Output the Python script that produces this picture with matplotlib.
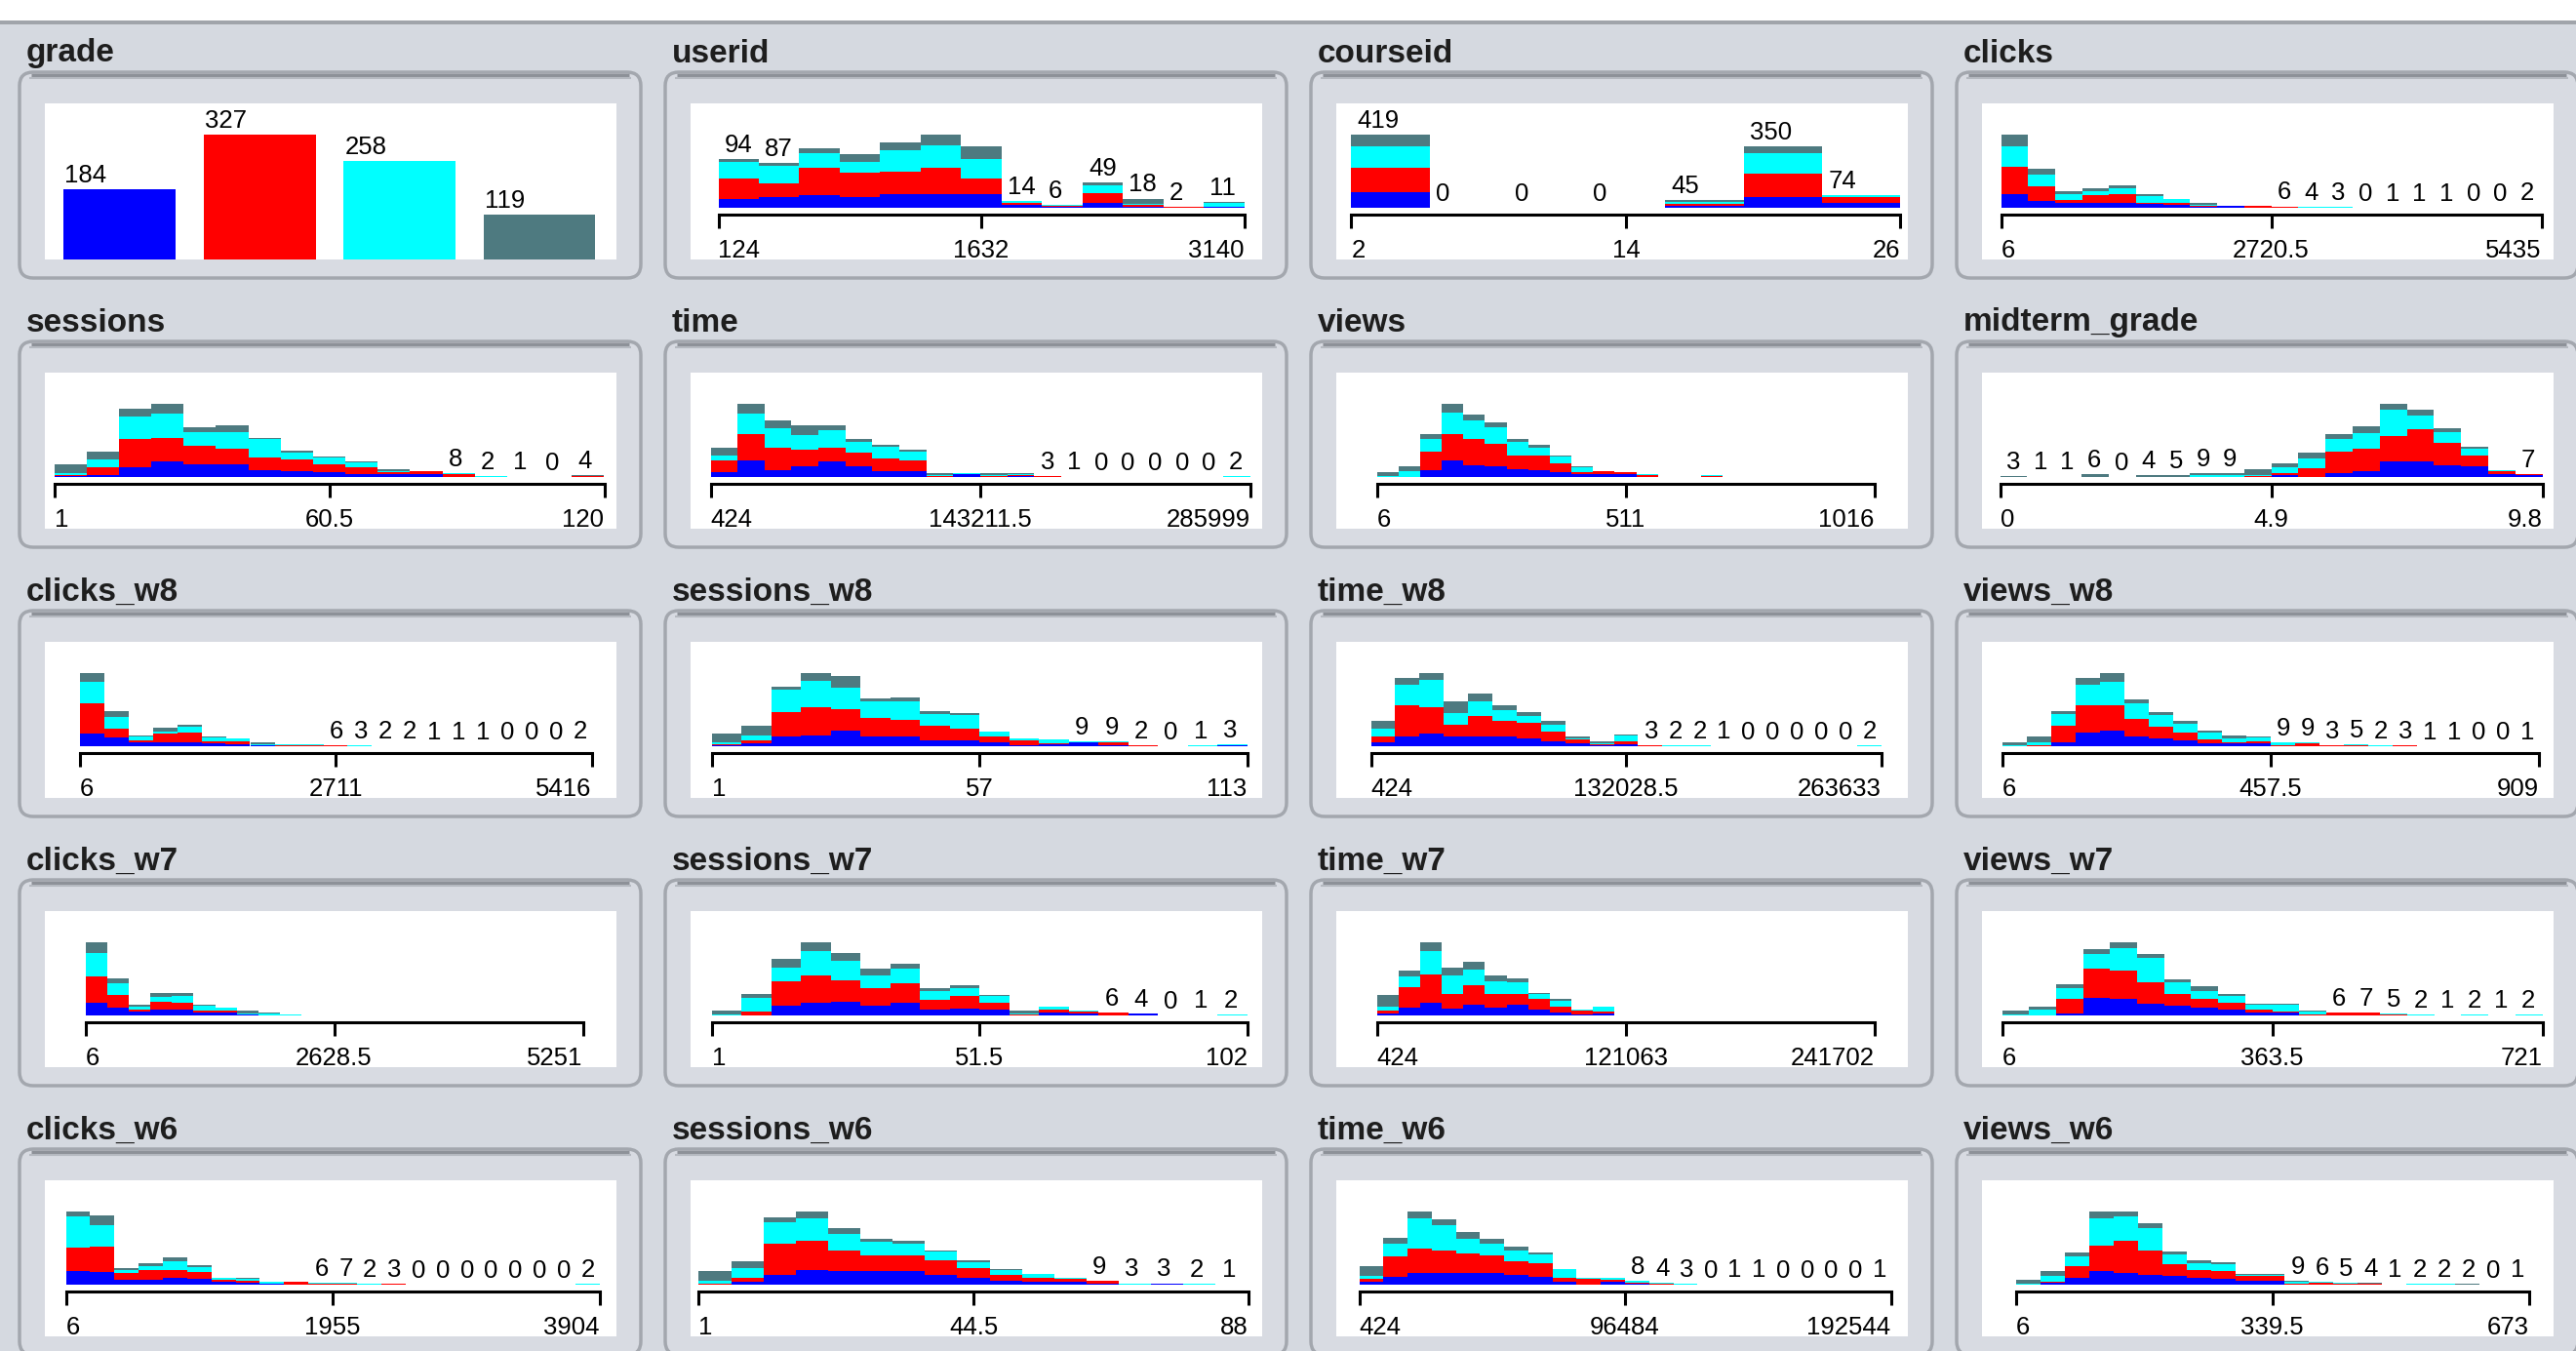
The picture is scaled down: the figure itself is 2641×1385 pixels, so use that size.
import matplotlib
matplotlib.use("Agg")
import matplotlib.pyplot as plt
from matplotlib.patches import FancyBboxPatch, Rectangle

plt.rcParams["font.family"] = ["Liberation Sans", "DejaVu Sans"]

# class colours, stacked bottom to top
COLORS = ["#0000ff", "#ff0000", "#00ffff", "#4e7a80"]

grade_counts = [184, 327, 258, 119]

# per-bin class counts [blue, red, cyan, slate]
userid = [[17, 39, 33, 5], [21, 27, 33, 6], [24, 54, 29, 8], [21, 48, 21, 14], [26, 44, 41, 16],
          [26, 52, 43, 21], [26, 30, 38, 25], [5, 5, 4, 0], [2, 2, 1, 1], [10, 18, 16, 5],
          [2, 3, 3, 10], [0, 1, 0, 1], [1, 1, 8, 1]]
courseid = [[90, 137, 126, 66], [0, 0, 0, 0], [0, 0, 0, 0], [0, 0, 0, 0], [10, 12, 13, 10],
            [62, 132, 118, 38], [30, 32, 12, 0]]
clicks = [[59, 117, 91, 48], [29, 63, 51, 25], [23, 10, 25, 12], [23, 32, 18, 12], [23, 35, 26, 12],
          [15, 4, 32, 7], [12, 9, 17, 0], [4, 4, 3, 8], [7, 2, 1, 0], [2, 7, 1, 0],
          [2, 2, 1, 1], [1, 1, 1, 1], [1, 1, 1, 0], [0, 0, 0, 0], [0, 0, 1, 0],
          [1, 0, 0, 0], [0, 1, 0, 0], [0, 0, 0, 0], [0, 0, 0, 0], [0, 1, 1, 0]]
sessions = [[2, 3, 3, 21], [5, 17, 17, 17], [22, 62, 49, 17], [34, 51, 55, 21], [29, 40, 30, 10],
            [29, 33, 37, 16], [15, 28, 40, 4], [12, 26, 15, 4], [10, 17, 17, 2], [7, 15, 10, 2],
            [6, 5, 2, 4], [6, 6, 0, 0], [1, 6, 1, 0], [0, 1, 1, 0], [0, 0, 0, 1],
            [0, 0, 0, 0], [1, 1, 1, 1]]
time = [[12, 26, 12, 19], [38, 62, 48, 23], [17, 52, 46, 18], [25, 39, 35, 23], [36, 32, 41, 12],
        [25, 31, 27, 6], [13, 31, 27, 4], [13, 25, 22, 4], [1, 2, 2, 5], [6, 1, 3, 0],
        [1, 2, 2, 5], [2, 2, 2, 4], [1, 1, 1, 0], [0, 1, 0, 0], [0, 0, 0, 0],
        [0, 0, 0, 0], [0, 0, 0, 0], [0, 0, 0, 0], [0, 0, 0, 0], [0, 1, 1, 0]]
views = [[0, 0, 2, 10], [0, 0, 13, 12], [16, 45, 32, 12], [39, 66, 51, 21], [29, 63, 44, 16],
         [25, 55, 40, 12], [20, 33, 32, 8], [17, 34, 21, 6], [12, 21, 16, 4], [6, 6, 11, 2],
         [7, 6, 2, 0], [6, 6, 0, 0], [1, 3, 2, 0], [0, 0, 0, 0], [0, 0, 0, 0],
         [0, 3, 1, 0]] + [[0, 0, 0, 0]] * 7
midterm_grade = [[0, 0, 0, 3], [0, 0, 0, 1], [0, 0, 0, 1], [0, 0, 1, 5], [0, 0, 0, 0],
                 [0, 0, 1, 3], [0, 0, 1, 4], [0, 1, 3, 5], [0, 1, 3, 5], [1, 1, 3, 14],
                 [4, 4, 15, 8], [0, 20, 22, 15], [9, 49, 30, 11], [13, 52, 37, 15], [37, 58, 60, 13],
                 [37, 73, 31, 13], [28, 51, 24, 10], [24, 26, 15, 4], [6, 7, 2, 1], [5, 2, 0, 0]]
clicks_w8 = [[59, 140, 101, 42], [41, 42, 55, 28], [20, 8, 16, 8], [20, 39, 8, 19], [20, 42, 28, 11],
             [12, 12, 16, 6], [11, 11, 14, 0], [3, 3, 3, 11], [2, 3, 3, 2], [2, 3, 3, 2],
             [1, 2, 2, 1], [1, 1, 1, 0], [0, 1, 1, 0], [1, 0, 0, 1], [0, 0, 1, 0],
             [0, 1, 0, 0], [1, 0, 0, 0], [0, 0, 0, 0], [0, 0, 0, 0], [0, 0, 0, 0], [0, 1, 1, 0]]
sessions_w8 = [[1, 2, 5, 17], [6, 6, 10, 20], [19, 50, 45, 5], [22, 57, 53, 15], [32, 43, 43, 23],
               [20, 37, 33, 7], [20, 33, 38, 7], [11, 31, 23, 5], [11, 25, 27, 3], [8, 12, 9, 1],
               [1, 11, 3, 0], [3, 3, 7, 0], [7, 1, 1, 0], [1, 7, 1, 0], [0, 1, 1, 0],
               [0, 0, 0, 0], [0, 0, 1, 0], [1, 1, 1, 0]]
time_w8 = [[8, 14, 17, 18], [22, 70, 47, 16], [28, 60, 62, 16], [22, 27, 27, 25], [23, 45, 35, 17],
           [23, 34, 26, 11], [18, 35, 16, 8], [10, 23, 16, 8], [6, 9, 3, 4], [2, 2, 2, 4],
           [5, 5, 14, 2], [1, 1, 1, 0], [0, 1, 1, 0], [1, 0, 1, 0], [0, 1, 0, 0],
           [0, 0, 0, 0], [0, 0, 0, 0], [0, 0, 0, 0], [0, 0, 0, 0], [0, 0, 0, 0], [0, 1, 1, 0]]
views_w8 = [[0, 0, 2, 8], [0, 2, 7, 16], [11, 41, 30, 9], [35, 70, 53, 16], [39, 67, 60, 21],
            [25, 44, 41, 11], [21, 30, 29, 8], [15, 21, 22, 8], [8, 10, 16, 5], [7, 4, 8, 8],
            [7, 5, 11, 2], [1, 1, 7, 0], [1, 7, 1, 0], [1, 1, 1, 0], [1, 2, 1, 1],
            [0, 1, 1, 0], [1, 1, 1, 0], [0, 0, 1, 0], [1, 0, 0, 0], [0, 0, 0, 0],
            [0, 0, 0, 0], [0, 0, 0, 1]]
clicks_w7 = [[57, 122, 106, 48], [37, 57, 52, 25], [18, 7, 15, 9], [27, 37, 22, 15], [27, 30, 30, 15],
             [12, 12, 21, 4], [12, 12, 10, 3], [3, 3, 4, 12], [1, 1, 8, 2], [1, 1, 1, 0],
             [0, 1, 1, 0], [0, 0, 1, 0], [1, 0, 0, 0], [0, 0, 0, 0], [0, 1, 0, 0],
             [0, 0, 0, 0], [0, 0, 0, 0], [0, 0, 1, 0], [0, 0, 0, 0], [0, 0, 0, 0],
             [0, 0, 0, 0], [0, 0, 0, 0], [0, 0, 0, 1]]
sessions_w7 = [[0, 0, 2, 8], [0, 9, 29, 8], [20, 52, 31, 18], [27, 59, 52, 18], [30, 45, 42, 16],
               [20, 38, 28, 13], [27, 42, 30, 12], [13, 21, 19, 5], [14, 27, 17, 6], [13, 14, 14, 3],
               [1, 1, 2, 6], [6, 6, 6, 0], [4, 4, 3, 0], [1, 5, 0, 0], [4, 0, 0, 0],
               [0, 0, 0, 0], [0, 0, 1, 0], [0, 1, 1, 0]]
time_w7 = [[5, 7, 8, 28], [19, 49, 25, 15], [31, 66, 57, 21], [17, 34, 45, 19], [25, 47, 37, 19],
           [19, 33, 29, 15], [25, 26, 29, 8], [15, 25, 12, 2], [8, 12, 16, 3], [2, 10, 3, 0],
           [5, 5, 11, 0]] + [[0, 0, 0, 0]] * 11 + [[0, 0, 0, 1]]
views_w7 = [[0, 0, 2, 10], [0, 0, 13, 8], [4, 35, 27, 8], [41, 71, 36, 12], [39, 69, 53, 14],
            [27, 53, 57, 10], [23, 28, 28, 8], [19, 20, 20, 10], [15, 16, 16, 4], [8, 7, 10, 4],
            [6, 4, 15, 2], [1, 1, 8, 1], [0, 6, 0, 0], [0, 6, 1, 0], [1, 1, 2, 1],
            [0, 1, 1, 0], [0, 0, 1, 0], [1, 0, 1, 0], [0, 0, 0, 1], [0, 1, 1, 0]]
clicks_w6 = [[49, 81, 111, 16], [46, 87, 75, 35], [17, 23, 12, 6], [17, 35, 14, 9], [23, 29, 29, 14],
             [21, 23, 17, 6], [9, 9, 5, 2], [7, 7, 7, 2], [2, 2, 7, 1], [1, 8, 2, 1],
             [1, 4, 1, 0], [1, 2, 3, 1], [0, 1, 1, 0], [1, 1, 1, 0]] + [[0, 0, 0, 0]] * 7 + [[0, 1, 1, 0]]
sessions_w6 = [[1, 2, 5, 21], [7, 7, 21, 15], [21, 65, 45, 10], [31, 60, 48, 14], [29, 43, 34, 12],
               [28, 34, 28, 7], [28, 34, 24, 5], [21, 31, 17, 3], [15, 19, 14, 3], [8, 12, 10, 2],
               [7, 8, 7, 0], [6, 7, 1, 0], [3, 5, 1, 0], [0, 1, 1, 1], [3, 0, 0, 0],
               [0, 1, 1, 0], [0, 0, 1, 0]]
time_w6 = [[6, 6, 7, 21], [18, 43, 29, 11], [25, 54, 66, 14], [25, 50, 54, 14], [25, 43, 32, 14],
           [25, 39, 25, 11], [21, 29, 25, 7], [18, 29, 18, 4], [7, 7, 20, 1], [1, 11, 2, 0],
           [7, 4, 3, 0], [2, 2, 4, 0], [1, 1, 2, 0], [0, 1, 2, 0], [0, 0, 0, 0],
           [0, 0, 1, 0], [1, 0, 0, 0], [0, 0, 0, 0], [0, 0, 0, 0], [0, 0, 0, 0],
           [0, 0, 0, 0], [0, 0, 0, 1]]
views_w6 = [[0, 0, 2, 10], [4, 4, 12, 12], [16, 28, 24, 8], [32, 61, 65, 16], [28, 77, 57, 12],
            [24, 57, 53, 12], [20, 28, 24, 8], [16, 18, 16, 7], [15, 18, 15, 5], [10, 10, 3, 2],
            [10, 10, 3, 2], [1, 1, 6, 1], [1, 4, 1, 0], [1, 1, 2, 1], [1, 1, 1, 1],
            [0, 0, 1, 0], [0, 1, 1, 0], [1, 0, 1, 0], [0, 1, 0, 1], [0, 0, 0, 0], [0, 0, 0, 1]]

# axis labels: min, middle, max
ticks = {
    "userid": ["124", "1632", "3140"],
    "courseid": ["2", "14", "26"],
    "clicks": ["6", "2720.5", "5435"],
    "sessions": ["1", "60.5", "120"],
    "time": ["424", "143211.5", "285999"],
    "views": ["6", "511", "1016"],
    "midterm_grade": ["0", "4.9", "9.8"],
    "clicks_w8": ["6", "2711", "5416"],
    "sessions_w8": ["1", "57", "113"],
    "time_w8": ["424", "132028.5", "263633"],
    "views_w8": ["6", "457.5", "909"],
    "clicks_w7": ["6", "2628.5", "5251"],
    "sessions_w7": ["1", "51.5", "102"],
    "time_w7": ["424", "121063", "241702"],
    "views_w7": ["6", "363.5", "721"],
    "clicks_w6": ["6", "1955", "3904"],
    "sessions_w6": ["1", "44.5", "88"],
    "time_w6": ["424", "96484", "192544"],
    "views_w6": ["6", "339.5", "673"],
}

hists = {
    "userid": userid, "courseid": courseid, "clicks": clicks, "sessions": sessions,
    "time": time, "views": views, "midterm_grade": midterm_grade,
    "clicks_w8": clicks_w8, "sessions_w8": sessions_w8, "time_w8": time_w8, "views_w8": views_w8,
    "clicks_w7": clicks_w7, "sessions_w7": sessions_w7, "time_w7": time_w7, "views_w7": views_w7,
    "clicks_w6": clicks_w6, "sessions_w6": sessions_w6, "time_w6": time_w6, "views_w6": views_w6,
}
order = ["grade"] + list(hists)

# counts are only printed when they fit in a bar (max digits per panel)
label_digits = {"userid": 2, "courseid": 3, "views": 0, "clicks_w7": 0, "time_w7": 0}

# left/right inset of the x axis inside the white plot area (px)
axis_pad = {
    "userid": (29, 18), "courseid": (16, 7), "clicks": (20, 12), "sessions": (10, 12),
    "time": (21, 12), "views": (42, 34), "midterm_grade": (19, 11),
    "clicks_w8": (36, 25), "sessions_w8": (22, 15), "time_w8": (36, 27), "views_w8": (21, 15),
    "clicks_w7": (42, 34), "sessions_w7": (22, 15), "time_w7": (42, 34), "views_w7": (21, 11),
    "clicks_w6": (22, 17), "sessions_w6": (9, 14), "time_w6": (24, 17), "views_w6": (35, 25),
}

W, H = 2641, 1385
BG = "#d5d9e0"
COL_STEP, ROW_STEP = 662, 276
WHITE_W, WHITE_H, HIST_H = 586, 160, 107
NUM_SIZE = 18.5

fig = plt.figure(figsize=(W / 100, H / 100), dpi=100, facecolor=BG)
bg = fig.add_axes([0, 0, 1, 1])
bg.set_xlim(0, W)
bg.set_ylim(H, 0)
bg.axis("off")
bg.add_patch(Rectangle((0, 0), W, 21, color="white", lw=0))
bg.add_patch(Rectangle((0, 21), W, 4, color="#a0a4aa", lw=0))


def px_axes(x, y, w, h):
    return fig.add_axes([x / W, 1 - (y + h) / H, w / W, h / H])


for k, name in enumerate(order):
    ox = (k % 4) * COL_STEP
    oy = (k // 4) * ROW_STEP

    # panel frame and title
    bg.add_patch(FancyBboxPatch((20 + ox, 74 + oy), 637, 211,
                                boxstyle="round,pad=0,rounding_size=14",
                                fc="#d8dbe2", ec="#a3a7ae", lw=2.5))
    bg.plot([32 + ox, 645 + ox], [76.5 + oy, 76.5 + oy], color="#8d9198", lw=2.5,
            solid_capstyle="butt")
    bg.plot([30 + ox, 647 + ox], [79.5 + oy, 79.5 + oy], color="#b5b9c0", lw=1.5,
            solid_capstyle="butt")
    bg.text(27 + ox, 55 + oy, name, fontsize=24, fontweight="bold", va="center",
            ha="left", color="#1e1e1e")
    wx, wy = 45.5 + ox, 106 + oy
    bg.add_patch(Rectangle((wx, wy), WHITE_W, WHITE_H, color="white", lw=0))

    if name == "grade":
        ax = px_axes(wx, wy, WHITE_W, WHITE_H)
        ax.axis("off")
        width = 0.801
        ax.bar(range(4), grade_counts, width=width, color=COLORS, linewidth=0,
               antialiased=False)
        for i, v in enumerate(grade_counts):
            ax.annotate(str(v), (i - width / 2, v), xytext=(1, 1.5),
                        textcoords="offset points", ha="left", va="bottom",
                        fontsize=NUM_SIZE)
        ax.set_xlim(-0.537, 3.547)
        ax.set_ylim(0, max(grade_counts) / 0.797)
        continue

    bins = hists[name]
    labels = ticks[name]
    lo, hi = float(labels[0]), float(labels[2])
    pl, pr = axis_pad[name]
    ax = px_axes(wx + pl, wy, WHITE_W - pl - pr, HIST_H)
    ax.patch.set_alpha(0)

    n = len(bins)
    bw = (hi - lo) / n
    lefts = [lo + i * bw for i in range(n)]
    bottom = [0] * n
    for c, color in enumerate(COLORS):
        vals = [b[c] for b in bins]
        ax.bar(lefts, vals, width=bw, bottom=bottom, align="edge", color=color,
               linewidth=0, antialiased=False)
        bottom = [a + v for a, v in zip(bottom, vals)]

    # count drawn from the bar's left edge, after a space
    digits = label_digits.get(name, 1)
    for x, tot in zip(lefts, bottom):
        if len(str(tot)) <= digits:
            ax.annotate(str(tot), (x, tot), xytext=(4.5, 1.5),
                        textcoords="offset points", ha="left", va="bottom",
                        fontsize=NUM_SIZE)

    ax.set_xlim(lo, hi)
    ax.set_ylim(0, max(bottom) / 0.70)
    for side in ("top", "left", "right"):
        ax.spines[side].set_visible(False)
    ax.spines["bottom"].set_position(("outward", 4.8))
    ax.spines["bottom"].set_linewidth(2.2)
    ax.set_yticks([])
    ax.set_xticks([lo, (lo + hi) / 2, hi], labels)
    ax.tick_params(axis="x", direction="out", length=10, width=2.2, pad=8,
                   labelsize=NUM_SIZE)
    for lab, ha in zip(ax.get_xticklabels(), ("left", "center", "right")):
        lab.set_horizontalalignment(ha)

fig.savefig("out.png", dpi=100, facecolor=BG)
